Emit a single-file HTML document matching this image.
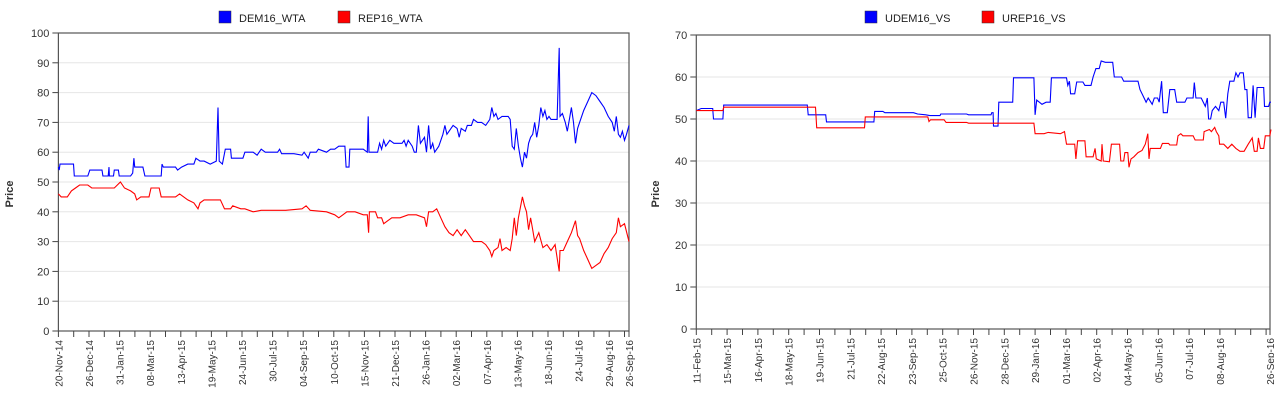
<!DOCTYPE html>
<html><head><meta charset="utf-8"><style>
html,body{margin:0;padding:0;background:#fff;width:1274px;height:406px;overflow:hidden}
svg{display:block;font-family:"Liberation Sans","DejaVu Sans",sans-serif}
</style></head><body>
<svg id="s" width="1274" height="406" viewBox="0 0 1274 406" xmlns="http://www.w3.org/2000/svg"></svg>
<script>
const NS="http://www.w3.org/2000/svg";const S=document.getElementById('s');
function el(t,a,txt){const e=document.createElementNS(NS,t);for(const k in a)e.setAttribute(k,a[k]);if(txt!==undefined)e.textContent=txt;S.appendChild(e);return e;}
function chart(c){
 const {x0,x1,y0,y1,max,step}=c; const sy=(y1-y0)/max;
 for(let v=0;v<=max;v+=step){const y=y1-v*sy;
  if(v>0&&v<max)el('line',{x1:x0,x2:x1,y1:y,y2:y,stroke:'#e6e6e6','stroke-width':1});
  el('line',{x1:x0-6,x2:x0,y1:y,y2:y,stroke:'#444'});
  el('text',{x:x0-9,y:y+4,'text-anchor':'end','font-size':11,fill:'#333'},v);}
 el('rect',{x:x0,y:y0,width:x1-x0,height:y1-y0,fill:'none',stroke:'#555','stroke-width':1.2});
 // ticks
 const sp=c.sp; for(let x=x0;x<x1-3;x+=sp/2)el('line',{x1:x,x2:x,y1:y1,y2:y1+6,stroke:'#444'});
 el('line',{x1:x1,x2:x1,y1:y1,y2:y1+6,stroke:'#444'});
 c.labels.forEach((l,i)=>{const x=i==c.labels.length-1?x1:x0+i*sp;
  el('text',{transform:`translate(${x+4},${y1+9}) rotate(-90)`,'text-anchor':'end','font-size':10,fill:'#333'},l);});
 el('text',{transform:`translate(${c.px},${(y0+y1)/2+12}) rotate(-90)`,'text-anchor':'middle','font-size':11,'font-weight':'bold',fill:'#333'},'Price');
 // legend
 c.leg.forEach(g=>{el('rect',{x:g[0],y:11,width:12,height:12,fill:g[2],stroke:'#333','stroke-width':0.5});
  el('text',{x:g[0]+20,y:22,'font-size':11,fill:'#222'},g[1]);});
 c.series.forEach(s=>{const p=s.d.map(q=>(c.ox+q[0]/2.45).toFixed(1)+','+(y1-q[1]*sy).toFixed(1)).join(' ');
  el('polyline',{points:p,fill:'none',stroke:s.c,'stroke-width':1.1});});
}
const P=a=>{const r=[];for(let i=0;i<a.length;i+=2)r.push([a[i],a[i+1]]);return r;};
const demL=P([143,55,145,54,147,56,180,56,182,52,215,52,220,54,250,54,252,52,265,52,267,55,268,52,278,52,280,54,290,54,292,52,320,52,325,53,328,58,330,55,350,55,355,52,395,52,397,56,400,55,430,55,435,54,445,55,460,56,475,56,480,58,490,57,500,57,515,56,530,57,534,75,537,57,545,56,552,61,565,61,567,58,595,58,600,60,620,60,630,59,640,61,650,60,680,60,685,61,690,59.5,720,59.5,740,59,745,60,755,58,760,60,775,60,780,61,800,60,810,61,820,61,830,62,845,62,848,55,855,55,857,61,870,61,890,61,900,60,902,72,904,60,925,60,930,63,935,61,940,64,945,62,955,64,965,63,985,63,990,64,995,62,1000,64,1010,62,1015,60,1020,60,1025,69,1030,63,1040,65,1045,60,1050,69,1055,61,1060,63,1065,60,1075,62,1085,66,1090,69,1095,66,1105,68,1110,69,1120,68,1125,65,1130,68,1140,67,1145,69,1155,69,1160,71,1170,70,1180,70,1190,69,1200,71,1205,75,1210,72,1215,73,1220,71,1230,72,1245,72,1250,71,1255,62,1260,61,1265,68,1270,62,1275,58,1280,55,1285,60,1290,58,1295,63,1300,65,1305,66,1310,70,1315,65,1320,69,1325,75,1330,72,1335,74,1340,71,1345,72,1350,71,1365,71,1370,95,1372,72,1378,73,1385,70,1390,67,1395,71,1400,75,1405,70,1410,63,1415,68,1420,70,1430,74,1440,77,1450,80,1460,79,1470,77,1480,75,1490,72,1500,70,1505,67,1510,72,1515,66,1520,65,1525,67,1530,64,1535,66,1541,69]);
const repL=P([143,46,150,45,165,45,175,47,185,48,195,49,215,49,225,48,240,48,265,48,280,48,295,50,305,48,320,47,330,46,335,44,345,45,365,45,370,48,390,48,395,45,430,45,440,46,460,44,475,43,485,41,490,43,500,44,540,44,550,41,565,41,570,42,590,41,600,41,620,40,640,40.5,700,40.5,740,41,750,42,760,40.5,800,40,820,39,830,38,840,39,850,40,870,40,890,39,900,39,903,33,905,40,920,40,925,38,935,38,940,36,950,37,960,38,980,38,1000,39,1020,39,1040,38,1045,35,1050,40,1060,40,1070,41,1080,38,1090,35,1100,33,1110,32,1120,34,1130,32,1140,34,1150,32,1160,30,1180,30,1190,29,1200,27,1205,25,1210,27,1220,28,1225,31,1230,27,1240,28,1250,27,1255,31,1260,38,1265,32,1270,38,1280,45,1285,42,1290,40,1295,34,1300,38,1305,34,1310,30,1320,33,1330,28,1340,29,1350,27,1360,29,1370,20,1372,27,1380,27,1390,30,1400,33,1410,37,1415,32,1420,31,1430,27,1440,24,1450,21,1460,22,1470,23,1480,26,1490,28,1500,31,1510,33,1515,38,1520,35,1530,36,1541,30]);
const demR=P([138,52,150,52.5,178,52.5,180,50,203,50,205,53.3,410,53.3,412,51,455,51,457,49.3,573,49.3,575,51.8,595,51.8,600,51.5,670,51.5,680,51.2,700,51,710,50.8,735,50.8,737,51.2,800,51.2,805,51,860,51,862,51.5,865,51.5,866,48.3,877,48.3,879,54,913,54,915,59.8,965,59.8,968,51,972,54.5,985,53.5,995,54,1005,54,1008,59.8,1045,59.8,1048,58,1052,59,1055,56,1065,56,1070,58.8,1085,58.8,1090,58,1105,58,1110,60,1117,62,1125,62,1130,63.8,1140,63.5,1158,63.5,1162,60,1180,60,1185,59,1220,59,1225,57,1235,55,1240,54,1245,55,1255,53.5,1260,55,1268,55,1272,54,1278,59,1282,51.5,1292,51.5,1298,57,1310,57,1315,54,1335,54,1340,55,1355,55,1358,58.7,1362,55,1375,55,1380,54,1385,53,1390,55,1393,50,1398,50,1402,52,1410,53,1418,52,1423,54,1430,54,1435,50.2,1440,56,1445,59,1455,59,1460,61,1465,60,1470,61,1478,61,1482,57,1487,57,1490,50.3,1498,50.3,1502,58,1507,50.3,1512,57.5,1528,57.5,1530,53,1540,53,1543,54,1546,54]);
const repR=P([138,52,150,52,203,52,205,52.8,410,52.8,430,52.8,433,47.9,550,47.9,552,50.5,705,50.5,708,49.4,712,49.8,745,49.8,750,49.2,800,49.2,805,49,965,49,968,46.5,990,46.5,1000,46.8,1030,46.5,1040,47,1045,44,1065,44,1068,40.5,1072,44.8,1090,44.8,1093,41,1110,41,1115,43,1118,40.5,1130,40,1132,44,1135,40,1150,39.8,1155,44,1175,44,1178,40,1185,40,1188,42,1195,42,1198,38.5,1203,40.5,1210,41,1220,42,1230,42.5,1238,44,1244,46.5,1247,40.5,1250,43,1270,43,1275,43,1280,44.2,1295,44.2,1298,43.8,1315,43.8,1318,46,1325,46.5,1330,46,1355,46,1360,45,1380,45,1382,47,1395,47.5,1400,47,1408,48,1412,47,1418,46,1420,44,1430,44,1440,43,1450,44,1460,43,1470,42.3,1480,42.3,1490,44,1500,45.5,1505,42.3,1512,42.3,1515,45.5,1520,43,1528,43,1532,46,1543,46,1546,47.5]);
chart({x0:58.4,x1:629,y0:33,y1:331,max:100,step:10,sp:30.6,px:13,ox:0,
 labels:['20-Nov-14','26-Dec-14','31-Jan-15','08-Mar-15','13-Apr-15','19-May-15','24-Jun-15','30-Jul-15','04-Sep-15','10-Oct-15','15-Nov-15','21-Dec-15','26-Jan-16','02-Mar-16','07-Apr-16','13-May-16','18-Jun-16','24-Jul-16','29-Aug-16','26-Sep-16'],
 leg:[[219,'DEM16_WTA','#0000ff'],[338,'REP16_WTA','#ff0000']],
 series:[{d:demL,c:'#0000ff'},{d:repL,c:'#ff0000'}]});
chart({x0:696.3,x1:1270,y0:35,y1:329,max:70,step:10,sp:30.8,px:659,ox:640,
 labels:['11-Feb-15','15-Mar-15','16-Apr-15','18-May-15','19-Jun-15','21-Jul-15','22-Aug-15','23-Sep-15','25-Oct-15','26-Nov-15','28-Dec-15','29-Jan-16','01-Mar-16','02-Apr-16','04-May-16','05-Jun-16','07-Jul-16','08-Aug-16','26-Sep-16'],
 leg:[[865,'UDEM16_VS','#0000ff'],[982,'UREP16_VS','#ff0000']],
 series:[{d:demR,c:'#0000ff'},{d:repR,c:'#ff0000'}]});
</script>
</body></html>
